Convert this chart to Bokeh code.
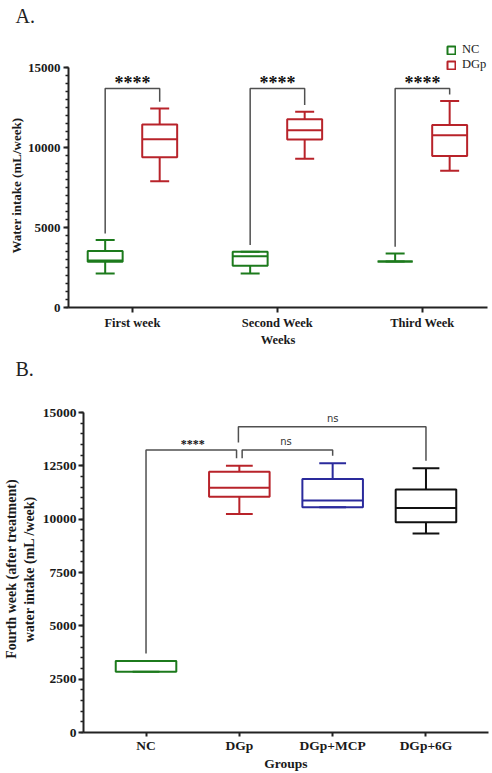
from bokeh.plotting import figure
from bokeh.models import Range1d, FixedTicker, Legend, LegendItem, Title
from bokeh.layouts import column
from bokeh.embed import file_html
from bokeh.resources import INLINE

# ---------------- data: panel A ----------------
weeks = ["First week", "Second Week", "Third Week"]
nc_min = [2130, 2130, 2880]
nc_q1 = [2860, 2610, 2880]
nc_med = [2950, 3215, 2880]
nc_q3 = [3530, 3490, 2880]
nc_max = [4220, 3490, 3380]

dgp_min = [7910, 9310, 8560]
dgp_q1 = [9400, 10520, 9480]
dgp_med = [10540, 11090, 10790]
dgp_q3 = [11460, 11780, 11420]
dgp_max = [12460, 12260, 12920]

sig_a = ["****", "****", "****"]

# ---------------- data: panel B ----------------
groups = ["NC", "DGp", "DGp+MCP", "DGp+6G"]
b_min = [2850, 10250, 10560, 9330]
b_q1 = [2850, 11060, 10560, 9860]
b_med = [3350, 11480, 10880, 10530]
b_q3 = [3350, 12230, 11890, 11400]
b_max = [3350, 12510, 12630, 12390]
b_colors = ["#1c7a1c", "#b8232a", "#2a2a9c", "#111111"]

y_ticks = [0, 5000, 10000, 15000]
y_ticks_b = [0, 2500, 5000, 7500, 10000, 12500, 15000]

GREEN = "#1c7a1c"
RED = "#b8232a"
GRAY = "#505050"
SERIF = "Liberation Serif"


def draw_box(p, xs, mn, q1, md, q3, mx, color, w, cap, lw=2):
    r = p.quad(left=[x - w / 2 for x in xs], right=[x + w / 2 for x in xs],
               bottom=q1, top=q3, fill_color="white", line_color=color, line_width=lw)
    p.segment(x0=[x - w / 2 for x in xs], x1=[x + w / 2 for x in xs], y0=md, y1=md,
              line_color=color, line_width=lw)
    p.segment(x0=xs, x1=xs, y0=q3, y1=mx, line_color=color, line_width=lw)
    p.segment(x0=xs, x1=xs, y0=mn, y1=q1, line_color=color, line_width=lw)
    p.segment(x0=[x - cap / 2 for x in xs], x1=[x + cap / 2 for x in xs], y0=mx, y1=mx,
              line_color=color, line_width=lw)
    p.segment(x0=[x - cap / 2 for x in xs], x1=[x + cap / 2 for x in xs], y0=mn, y1=mn,
              line_color=color, line_width=lw)
    return r


def style_axes(p, fs_tick, fs_label):
    for ax in (p.xaxis[0], p.yaxis[0]):
        ax.axis_line_color = "#222222"
        ax.axis_line_width = 2
        ax.major_tick_line_color = "#222222"
        ax.major_tick_line_width = 2
        ax.minor_tick_line_color = "#222222"
        ax.minor_tick_line_width = 1.5
        ax.major_tick_out = 5
        ax.major_tick_in = 0
        ax.minor_tick_out = 3
        ax.minor_tick_in = 0
        ax.major_label_text_font = SERIF
        ax.major_label_text_font_style = "bold"
        ax.major_label_text_font_size = fs_tick
        ax.major_label_text_color = "#1a1a1a"
        ax.axis_label_text_font = SERIF
        ax.axis_label_text_font_style = "bold"
        ax.axis_label_text_font_size = fs_label
        ax.axis_label_text_color = "#1a1a1a"
        ax.major_label_standoff = 3
        ax.axis_label_standoff = 3
    p.xgrid.visible = False
    p.ygrid.visible = False
    p.outline_line_color = None


def header(txt, h, y):
    f = figure(width=492, height=h, output_backend="svg", toolbar_location=None,
               x_range=Range1d(0, 492), y_range=Range1d(0, h),
               x_axis_type=None, y_axis_type=None, min_border=0)
    f.frame_align = False
    f.xgrid.visible = False
    f.ygrid.visible = False
    f.outline_line_color = None
    f.text(x=[15], y=[y], text=[txt], text_font={"value": SERIF}, text_font_size="20px",
           text_baseline="middle", text_align="left", text_color="#222222")
    return f


# ================= Panel A =================
xa = list(range(len(weeks)))
off = 0.188
bw_a = 0.241
cap_a = 0.131

fa = header("A.", 28, 13)

pa = figure(width=492, height=324, output_backend="svg", toolbar_location=None,
            x_range=Range1d(-0.441, 2.449), y_range=Range1d(0, 16590),
            min_border_left=68, min_border_right=5, min_border_top=14, min_border_bottom=45)
pa.frame_align = False

r_nc = draw_box(pa, [x - off for x in xa], nc_min, nc_q1, nc_med, nc_q3, nc_max, GREEN, bw_a, cap_a)
r_dgp = draw_box(pa, [x + off for x in xa], dgp_min, dgp_q1, dgp_med, dgp_q3, dgp_max, RED, bw_a, cap_a)

# significance brackets
level_a = 13710
gap_a = 420
for i, x in enumerate(xa):
    xl, xr = x - off, x + off
    pa.line(x=[xl, xl, xr, xr], y=[nc_max[i] + gap_a, level_a, level_a, dgp_max[i] + gap_a],
            line_color=GRAY, line_width=1.5)
pa.text(x=xa, y=[level_a + 330] * 3, text=sig_a, text_font={"value": SERIF},
        text_font_style="bold", text_font_size="18px", text_align="center",
        text_baseline="middle", text_color="#111111")

pa.xaxis.ticker = FixedTicker(ticks=xa, minor_ticks=[])
pa.xaxis.major_label_overrides = {i: w for i, w in enumerate(weeks)}
pa.yaxis.ticker = FixedTicker(ticks=y_ticks, minor_ticks=list(range(0, 15001, 500)))
pa.yaxis.bounds = (0, 15000)
pa.xaxis.axis_label = "Weeks"
style_axes(pa, "12.5px", "12.5px")
pa.yaxis.major_label_text_font_size = "13px"
pa.xaxis.axis_label_standoff = 0

# y-axis title, centred on the 0-15000 axis span
ya_title = Title(text="Water intake (mL/week)", align="left", offset=54,
                 text_font=SERIF, text_font_style="bold", text_font_size="13px",
                 text_color="#1a1a1a", standoff=2)
pa.add_layout(ya_title, "left")

leg = Legend(items=[LegendItem(label="NC", renderers=[r_nc]),
                    LegendItem(label="DGp", renderers=[r_dgp])],
             location=(378, 235), orientation="vertical")
leg.glyph_width = 10
leg.glyph_height = 10
leg.label_height = 14
leg.spacing = 0
leg.padding = 0
leg.margin = 0
leg.label_standoff = 6
leg.label_text_font = SERIF
leg.label_text_font_size = "12.5px"
leg.label_text_color = "#222222"
leg.border_line_color = None
leg.background_fill_alpha = 0
pa.add_layout(leg, "center")

# ================= Panel B =================
xb = list(range(len(groups)))
bw_b = 0.649
cap_b = 0.287

fb = header("B.", 33, 17)

pb = figure(width=492, height=388, output_backend="svg", toolbar_location=None,
            x_range=Range1d(-0.670, 3.670), y_range=Range1d(0, 15336),
            min_border_left=80, min_border_right=4, min_border_top=20, min_border_bottom=41)
pb.frame_align = False

for i, x in enumerate(xb):
    draw_box(pb, [x], [b_min[i]], [b_q1[i]], [b_med[i]], [b_q3[i]], [b_max[i]],
             b_colors[i], bw_b, cap_b)

gap_b = 350
lvl1 = 13250
lvl2 = 14343
# NC vs DGp
pb.line(x=[xb[0], xb[0], xb[1] - 0.03, xb[1] - 0.03],
        y=[b_max[0] + gap_b, lvl1, lvl1, b_max[1] + gap_b], line_color=GRAY, line_width=1.5)
# DGp vs DGp+MCP
pb.line(x=[xb[1] + 0.03, xb[1] + 0.03, xb[2], xb[2]],
        y=[b_max[1] + gap_b, lvl1, lvl1, b_max[2] + gap_b], line_color=GRAY, line_width=1.5)
# DGp vs DGp+6G
pb.line(x=[xb[1] - 0.01, xb[1] - 0.01, xb[3], xb[3]],
        y=[lvl1 + gap_b, lvl2, lvl2, b_max[3] + gap_b], line_color=GRAY, line_width=1.5)

pb.text(x=[0.5], y=[lvl1 + 300], text=["****"], text_font={"value": SERIF},
        text_font_style="bold", text_font_size="12px", text_align="center",
        text_baseline="middle", text_color="#111111")
pb.text(x=[1.5, 2.0], y=[lvl1 + 390, lvl2 + 390], text=["ns", "ns"],
        text_font={"value": "DejaVu Sans"}, text_font_size="10px", text_align="center",
        text_baseline="middle", text_color="#333333")

pb.xaxis.ticker = FixedTicker(ticks=xb, minor_ticks=[])
pb.xaxis.major_label_overrides = {i: g for i, g in enumerate(groups)}
pb.yaxis.ticker = FixedTicker(ticks=y_ticks_b, minor_ticks=list(range(0, 15001, 500)))
pb.yaxis.bounds = (0, 15000)
pb.xaxis.axis_label = "Groups"
pb.yaxis.axis_label = "Fourth week (after treatment)\nwater intake (mL /week)"
style_axes(pb, "13.5px", "13.5px")
pb.yaxis.axis_label_text_font_size = "14px"
pb.yaxis.axis_label_standoff = 3
pb.yaxis.major_label_standoff = 2
pb.xaxis.major_label_standoff = 1
pb.xaxis.axis_label_standoff = 0
pb.xaxis.major_tick_out = 4

layout = column(fa, pa, fb, pb, spacing=0)
open("out.html", "w").write(file_html(layout, INLINE))
